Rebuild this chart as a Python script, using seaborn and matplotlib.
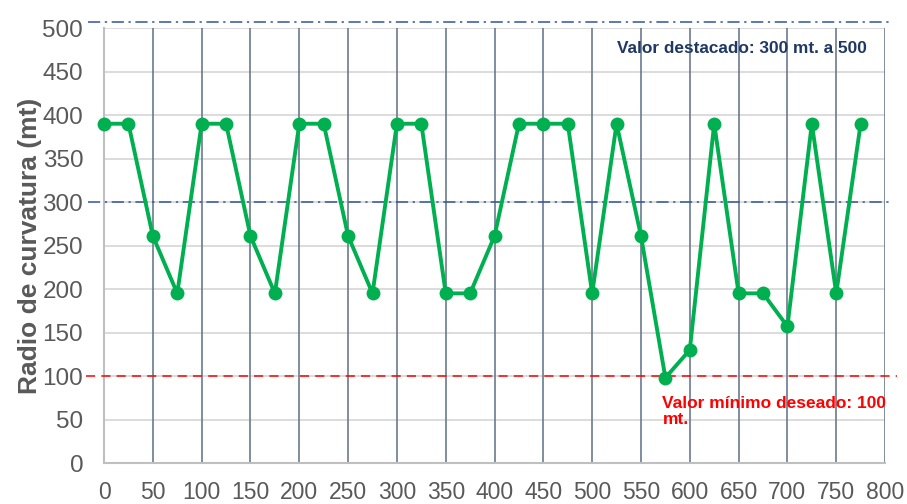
import matplotlib
matplotlib.use("Agg")
import matplotlib.pyplot as plt
import matplotlib.transforms as mtransforms
import seaborn as sns
import pandas as pd

distance = [0, 25, 50, 75, 100, 125, 150, 175, 200, 225, 250, 275, 300, 325, 350, 375,
            400, 425, 450, 475, 500, 525, 550, 575, 600, 625, 650, 675, 700, 725, 750, 775]
radius = [390, 390, 261, 195, 390, 390, 261, 195, 390, 390, 261, 195, 390, 390, 195, 195,
          261, 390, 390, 390, 195, 390, 261, 98, 130, 390, 195, 195, 157, 390, 195, 390]
x_ticks = list(range(0, 801, 50))
y_ticks = list(range(0, 501, 50))
min_value = 100
highlight_low = 300
highlight_high = 507
ylabel = "Radio de curvatura (mt)"
note_high = "Valor destacado: 300 mt. a 500"
note_low = "Valor mínimo deseado: 100\nmt."

df = pd.DataFrame({"distance": distance, "radius": radius})

sns.set_theme(style="white")
plt.rcParams["font.family"] = ["Liberation Sans", "DejaVu Sans"]

fig = plt.figure(figsize=(9.07, 5.04), dpi=100)
ax = fig.add_axes([0.1147, 0.0813, 0.9758 - 0.1147, 0.9444 - 0.0813])

ax.set_xlim(0, 800)
ax.set_ylim(0, 500)
ax.set_xticks(x_ticks)
ax.set_yticks(y_ticks)

# horizontal light grid
for y in y_ticks[1:]:
    ax.axhline(y, color="#D9D9D9", lw=1.3, zorder=0)
# vertical dark grid
for x in x_ticks[1:]:
    ax.axvline(x, color="#6B7A8F", lw=1.2, zorder=1)

sns.lineplot(data=df, x="distance", y="radius", ax=ax, color="#00B050", lw=2.8,
             marker="o", markersize=10, markeredgewidth=0, zorder=5, clip_on=False)

trans = mtransforms.blended_transform_factory(fig.transFigure, ax.transData)
ax.plot([88 / 907, 890 / 907], [highlight_low, highlight_low], transform=trans,
        color="#2F55A4", lw=1.1, ls=(0, (8, 3, 1.5, 3)), clip_on=False, zorder=4)
ax.plot([88 / 907, 890 / 907], [highlight_high, highlight_high], transform=trans,
        color="#2F55A4", lw=1.1, ls=(0, (8, 3, 1.5, 3)), clip_on=False, zorder=4)
ax.plot([86 / 907, 897 / 907], [min_value, min_value], transform=trans,
        color="#FF0000", lw=1.1, ls=(0, (6, 4)), clip_on=False, zorder=4)

for side in ["top", "right"]:
    ax.spines[side].set_visible(False)
for side in ["left", "bottom"]:
    ax.spines[side].set_color("#BFBFBF")
    ax.spines[side].set_linewidth(1.5)

ax.tick_params(axis="x", labelsize=16.5, labelcolor="#595959", length=0, pad=13)
ax.tick_params(axis="y", labelsize=17.5, labelcolor="#595959", length=0, pad=15)
ax.set_xlabel("")
ax.set_ylabel(ylabel, fontsize=19, fontweight="bold", color="#595959", labelpad=0)

ax.text(525, 477, note_high, fontsize=12.4, fontweight="bold", color="#1F3864",
        ha="left", va="center", zorder=6)
ax.text(572, 77, note_low, fontsize=12.5, fontweight="bold", color="#FF0000",
        ha="left", va="top", linespacing=1.05, zorder=6)

fig.savefig("out.png", dpi=100)
